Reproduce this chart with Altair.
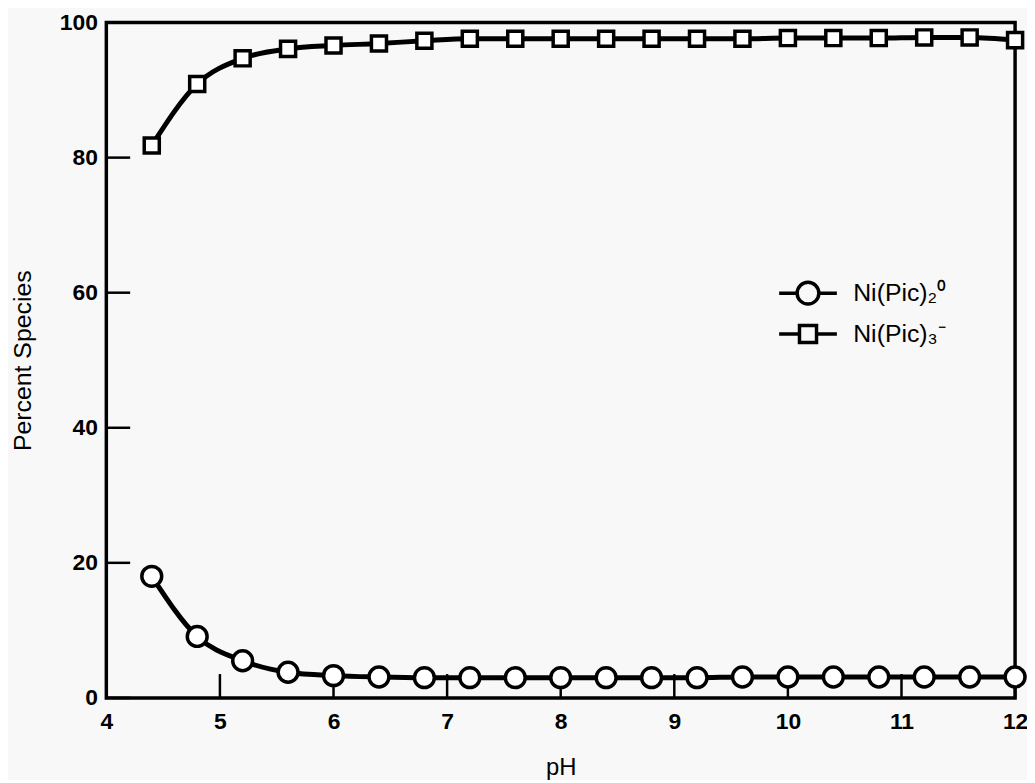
import altair as alt
import pandas as pd

ph = [4.4, 4.8, 5.2, 5.6, 6.0, 6.4, 6.8, 7.2, 7.6, 8.0, 8.4, 8.8, 9.2, 9.6, 10.0, 10.4, 10.8, 11.2, 11.6, 12.0]
ni_pic3 = [81.8, 90.9, 94.7, 96.1, 96.6, 96.9, 97.3, 97.6, 97.6, 97.6, 97.6, 97.6, 97.6, 97.6, 97.7, 97.7, 97.7, 97.8, 97.8, 97.4]
ni_pic2 = [18.0, 9.1, 5.5, 3.8, 3.3, 3.1, 3.0, 3.0, 3.0, 3.0, 3.0, 3.0, 3.0, 3.1, 3.1, 3.1, 3.1, 3.1, 3.1, 3.1]
series_names = ["Ni(Pic)\u2082\u2070", "Ni(Pic)\u2083\u207b"]
x_ticks = [4, 5, 6, 7, 8, 9, 10, 11, 12]
y_ticks = [0, 20, 40, 60, 80, 100]

rows = []
for p, a, b in zip(ph, ni_pic2, ni_pic3):
    rows.append({"pH": p, "pct": a, "series": series_names[0]})
    rows.append({"pH": p, "pct": b, "series": series_names[1]})
df = pd.DataFrame(rows)

FONT = "Liberation Sans"
xs = alt.Scale(domain=[4, 12], nice=False, zero=False)
ys = alt.Scale(domain=[0, 100], nice=False)

x_enc = alt.X("pH:Q", scale=xs, axis=alt.Axis(
    values=x_ticks, format="d", title="pH", grid=False, domain=False, ticks=False,
    labelPadding=13, labelFontSize=23, labelFontWeight="bold", labelFont=FONT,
    labelColor="black", titleFont=FONT, titleFontSize=24, titleFontWeight="normal",
    titleColor="black", titlePadding=22, labelFlush=False))
y_enc = alt.Y("pct:Q", scale=ys, axis=alt.Axis(
    values=y_ticks, format="d", title="Percent Species", grid=False, domain=False, ticks=False,
    labelPadding=9, labelFontSize=23, labelFontWeight="bold", labelFont=FONT,
    labelColor="black", titleFont=FONT, titleFontSize=25, titleFontWeight="normal",
    titleColor="black", titlePadding=24, labelFlush=False))

lines = alt.Chart(df).mark_line(interpolate="monotone", color="black", strokeWidth=5).encode(
    x=x_enc, y=y_enc, detail="series:N")

points = alt.Chart(df).mark_point(filled=False, fill="white", fillOpacity=1, stroke="black",
                                  strokeWidth=3.5, opacity=1).encode(
    x=alt.X("pH:Q", scale=xs),
    y=alt.Y("pct:Q", scale=ys),
    shape=alt.Shape("series:N", scale=alt.Scale(domain=series_names, range=["circle", "square"]), legend=None),
    size=alt.Size("series:N", scale=alt.Scale(domain=series_names, range=[400, 230]), legend=None),
)

circ_path = "M-1.49,0L-0.56,0M0.56,0A0.56,0.56,0,1,1,-0.56,0A0.56,0.56,0,1,1,0.56,0M0.56,0L1.49,0"
sq_path = "M-1.49,0L-0.44,0M0.44,0L1.49,0M-0.44,-0.44L0.44,-0.44L0.44,0.44L-0.44,0.44Z"

legend_layer = alt.Chart(df).mark_point(opacity=0, filled=False).encode(
    x=alt.X("pH:Q", scale=xs),
    y=alt.Y("pct:Q", scale=ys),
    shape=alt.Shape("series:N", scale=alt.Scale(domain=series_names, range=[circ_path, sq_path]),
                    legend=alt.Legend(title=None, orient="none", legendX=685, legendY=251,
                                      symbolSize=1521, symbolStrokeWidth=3.5, symbolStrokeColor="black",
                                      symbolFillColor="white", symbolOpacity=1,
                                      labelFont=FONT, labelFontSize=25, labelColor="black",
                                      labelLimit=300, rowPadding=1, labelOffset=24)),
)

yt = pd.DataFrame({"v": y_ticks})
xt = pd.DataFrame({"v": x_ticks})
ytick_layer = alt.Chart(yt).mark_rule(color="black", strokeWidth=2.5).encode(
    y=alt.Y("v:Q", scale=ys), x=alt.value(0), x2=alt.value(24))
xtick_layer = alt.Chart(xt).mark_rule(color="black", strokeWidth=2.5).encode(
    x=alt.X("v:Q", scale=xs), y=alt.value(680), y2=alt.value(656))

chart = alt.layer(ytick_layer, xtick_layer, lines, points, legend_layer).resolve_scale(
    shape="independent", size="independent"
).properties(
    width=915, height=680, autosize="none",
    padding={"left": 99, "top": 12, "right": 12, "bottom": 80},
    background="#f8f8f8",
).configure_view(stroke="black", strokeWidth=3.5)

chart.save("out.html", embed_options={"renderer": "svg", "actions": False})
